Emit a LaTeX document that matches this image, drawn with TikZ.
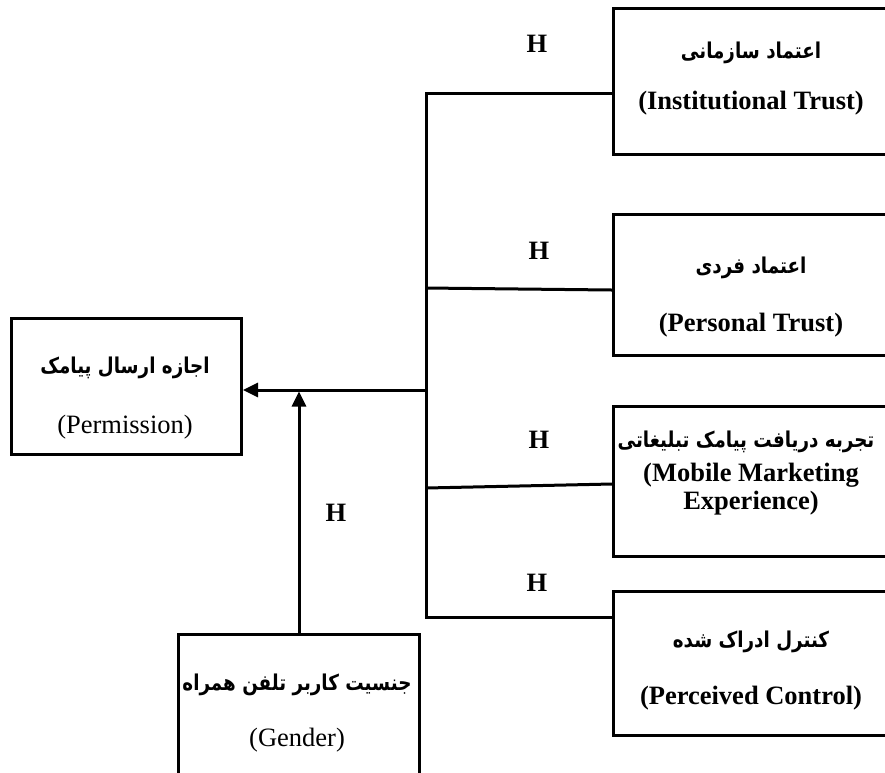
\documentclass[tikz,border=0pt]{standalone}
\usepackage{graphicx}
\usepackage{fontspec}
\setmainfont{Liberation Serif}
\newfontfamily\arabicfont[Script=Arabic]{DejaVu Sans}
\TeXXeTstate=1
\usetikzlibrary{arrows.meta}
\newcommand{\fatext}[1]{\scalebox{0.84}[1]{\arabicfont\bfseries\fontsize{21.8}{24}\selectfont\beginR #1\endR}}
\tikzset{
  box/.style={draw, line width=3pt, minimum width=#1, inner sep=0pt, anchor=north west},
  en/.style={font=\fontsize{26.5}{30}\selectfont, inner sep=0pt},
  enb/.style={font=\fontsize{26.5}{30}\selectfont\bfseries, inner sep=0pt},
  fa/.style={inner sep=0pt},
  hl/.style={font=\fontsize{26.5}{30}\selectfont\bfseries, inner sep=0pt},
  conn/.style={line width=3pt},
  arr/.style={line width=3pt, -{Triangle[length=15pt,width=14pt]}},
}
\begin{document}
\begin{tikzpicture}[x=1pt,y=1pt]
\useasboundingbox (0,0) rectangle (885,-772);
% boxes
\node[box=278pt, minimum height=146pt] (b1) at (612,-7) {};
\node[box=278pt, minimum height=141pt] (b2) at (612,-213) {};
\node[box=278pt, minimum height=150pt] (b3) at (612,-405) {};
\node[box=278pt, minimum height=144pt] (b4) at (612,-590) {};
\node[box=230pt, minimum height=136pt] (perm) at (10,-317) {};
\node[box=241pt, minimum height=145pt] (gend) at (177,-633) {};
% texts
\node[fa] (t1a) at (751,-53) {\fatext{اعتماد سازمانی}};
\node[enb] (t1b) at (751,-103) {(Institutional Trust)};
\node[fa] (t2a) at (751,-268) {\fatext{اعتماد فردی}};
\node[enb] (t2b) at (751,-325) {(Personal Trust)};
\node[fa] (t3a) at (746,-442) {\fatext{تجربه دریافت پیامک تبلیغاتی}};
\node[enb] (t3b) at (751,-475) {(Mobile Marketing};
\node[enb] (t3c) at (751,-503) {Experience)};
\node[fa] (t4a) at (751,-642) {\fatext{کنترل ادراک شده}};
\node[enb] (t4b) at (751,-698) {(Perceived Control)};
\node[fa] (tpa) at (125,-368) {\fatext{اجازه ارسال پیامک}};
\node[en] (tpb) at (125,-427) {(Permission)};
\node[fa] (tga) at (297,-685) {\fatext{جنسیت کاربر تلفن همراه}};
\node[en] (tgb) at (297,-740) {(Gender)};
% H labels
\node[hl] (h1) at (537,-44) {H};
\node[hl] (h2) at (539,-251) {H};
\node[hl] (h3) at (539,-440) {H};
\node[hl] (h4) at (537,-583) {H};
\node[hl] (h5) at (336,-513) {H};
% connectors
\coordinate (j1) at (426,-93);
\coordinate (j2) at (426,-288);
\coordinate (jm) at (426,-390);
\coordinate (j3) at (426,-488);
\coordinate (j4) at (426,-617);
\draw[conn] (j1 -| b1.west) -- (j1) -- (j4) -- (j4 -| b4.west);
\draw[conn] (j2) -- (b2.west |- 0,-290);
\draw[conn] (j3) -- (b3.west |- 0,-484);
\draw[arr] (jm) -- (perm.east |- jm);
\draw[arr] (gend.north) -- ([yshift=-1.5pt]gend.north |- jm);
\end{tikzpicture}
\end{document}
